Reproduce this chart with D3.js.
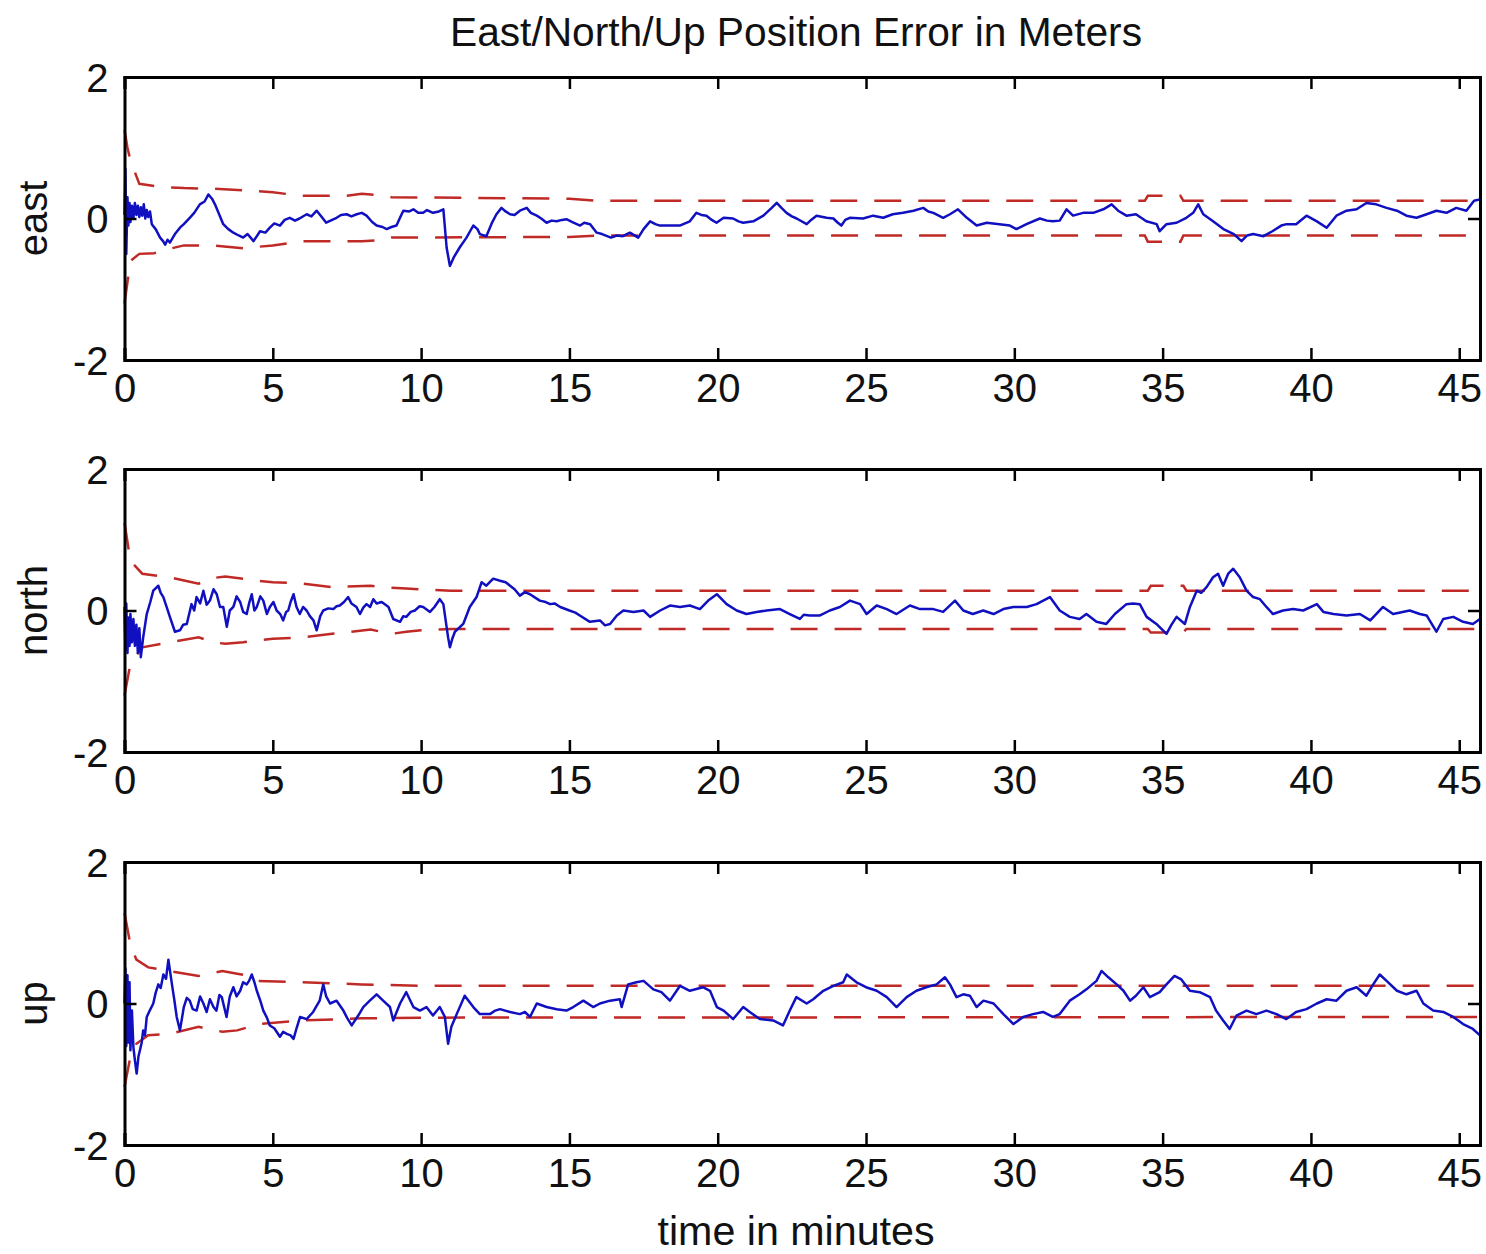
<!DOCTYPE html>
<html>
<head>
<meta charset="utf-8">
<script src="https://cdn.jsdelivr.net/npm/d3@7"></script>
<style>
  body { margin: 0; background: #fff; }
  text { font-family: "Liberation Sans", Arial, sans-serif; fill: #111; }
</style>
</head>
<body>
<div id="chart"></div>
<script>
// ---- data (time in minutes, error in meters) ----
const xTicks = [0, 5, 10, 15, 20, 25, 30, 35, 40, 45];
const yTicks = [-2, 0, 2];
const panelNames = ["east", "north", "up"];

const eastErr = [
  [0,0.05],[0.03,0.7],[0.06,-0.5],[0.1,0.3],[0.13,-0.1],[0.17,0.22],[0.2,-0.05],[0.25,0.18],[0.3,0.0],
  [0.35,0.22],[0.4,0.05],[0.45,0.18],[0.5,0.02],[0.55,0.16],[0.6,0.04],[0.65,0.2],[0.7,0.0],[0.75,0.12],
  [0.8,0.02],[0.86,0.1],[0.92,-0.08],[1.05,-0.15],[1.2,-0.27],[1.3,-0.32],[1.37,-0.37],[1.45,-0.3],[1.53,-0.34],
  [1.7,-0.22],[1.87,-0.13],[2.0,-0.08],[2.2,0.01],[2.35,0.08],[2.54,0.2],[2.7,0.24],[2.83,0.34],[2.95,0.28],
  [3.05,0.2],[3.2,0.05],[3.33,-0.08],[3.5,-0.15],[3.67,-0.2],[3.85,-0.24],[4.0,-0.27],[4.15,-0.22],[4.35,-0.32],
  [4.57,-0.18],[4.75,-0.2],[4.9,-0.13],[5.05,-0.07],[5.24,-0.1],[5.4,-0.02],[5.57,0.01],[5.75,-0.03],[5.9,0.0],
  [6.14,0.06],[6.3,0.03],[6.48,0.11],[6.65,0.02],[6.8,-0.06],[7.0,-0.02],[7.15,0.01],[7.3,0.05],[7.49,0.06],
  [7.65,0.03],[7.83,0.06],[8.0,0.08],[8.16,0.04],[8.35,-0.05],[8.5,-0.1],[8.7,-0.12],[8.84,-0.15],[9.0,-0.12],
  [9.17,-0.1],[9.3,0.02],[9.4,0.11],[9.6,0.1],[9.74,0.13],[9.9,0.08],[10.07,0.08],[10.2,0.12],[10.4,0.08],
  [10.6,0.1],[10.75,0.13],[10.86,-0.41],[10.97,-0.67],[11.1,-0.55],[11.3,-0.41],[11.53,-0.27],[11.65,-0.18],
  [11.76,-0.1],[11.9,-0.15],[11.98,-0.22],[12.2,-0.25],[12.4,-0.05],[12.54,0.06],[12.71,0.15],[12.85,0.1],
  [13.0,0.06],[13.15,0.05],[13.33,0.11],[13.56,0.15],[13.7,0.08],[13.9,0.04],[14.05,0.0],[14.23,-0.06],
  [14.4,-0.03],[14.57,-0.04],[14.75,-0.02],[14.9,-0.01],[15.1,-0.05],[15.36,-0.1],[15.5,-0.06],[15.7,-0.08],
  [15.92,-0.2],[16.1,-0.22],[16.4,-0.27],[16.6,-0.24],[16.8,-0.25],[17.04,-0.2],[17.32,-0.27],[17.5,-0.15],
  [17.72,-0.04],[17.9,-0.08],[18.05,-0.1],[18.4,-0.1],[18.72,-0.1],[19.06,-0.04],[19.28,0.08],[19.45,0.05],
  [19.62,0.04],[19.8,-0.02],[19.96,-0.06],[20.2,0.01],[20.52,0.0],[20.7,-0.04],[20.86,-0.06],[21.2,-0.04],
  [21.54,0.04],[21.82,0.15],[21.99,0.22],[22.15,0.15],[22.32,0.08],[22.5,0.03],[22.66,0.0],[23.0,-0.08],
  [23.15,-0.02],[23.33,0.04],[23.67,0.01],[23.9,0.0],[24.05,-0.06],[24.17,-0.1],[24.3,-0.02],[24.45,0.01],
  [24.9,0.0],[25.24,0.04],[25.58,0.01],[25.9,0.06],[26.25,0.08],[26.6,0.11],[26.93,0.15],[27.1,0.1],
  [27.27,0.08],[27.6,0.01],[27.83,0.06],[28.1,0.13],[28.25,0.07],[28.4,0.01],[28.73,-0.1],[29.07,-0.06],
  [29.5,-0.08],[29.85,-0.1],[30.07,-0.15],[30.41,-0.08],[30.86,0.0],[31.1,-0.03],[31.3,-0.04],[31.53,-0.03],
  [31.76,0.13],[31.98,0.04],[32.32,0.08],[32.66,0.08],[33.0,0.13],[33.28,0.2],[33.5,0.11],[33.78,0.04],
  [34.1,0.06],[34.45,-0.04],[34.8,-0.08],[34.9,-0.18],[35.13,-0.08],[35.47,-0.06],[35.8,0.01],[36.03,0.08],
  [36.2,0.2],[36.37,0.06],[36.7,-0.04],[37.05,-0.15],[37.4,-0.22],[37.66,-0.32],[37.85,-0.24],[38.05,-0.22],
  [38.4,-0.25],[38.7,-0.18],[39.0,-0.1],[39.18,-0.08],[39.5,-0.08],[39.85,0.04],[40.2,-0.04],[40.53,-0.13],
  [40.86,0.04],[41.2,0.11],[41.54,0.13],[41.87,0.22],[42.2,0.2],[42.55,0.15],[42.9,0.11],[43.22,0.04],
  [43.56,0.01],[43.9,0.06],[44.23,0.11],[44.57,0.08],[44.9,0.15],[45.24,0.11],[45.5,0.25],[45.7,0.27]
];

const northErr = [
  [0,0.05],[0.03,-0.55],[0.06,0.1],[0.1,-0.6],[0.13,-0.1],[0.17,-0.5],[0.2,-0.05],[0.25,-0.45],[0.3,-0.12],
  [0.35,-0.5],[0.4,-0.2],[0.45,-0.6],[0.5,-0.25],[0.55,-0.66],[0.63,-0.38],[0.75,-0.05],[0.87,0.12],
  [0.97,0.28],[1.14,0.35],[1.22,0.25],[1.31,0.19],[1.42,0.05],[1.53,-0.09],[1.7,-0.3],[1.87,-0.28],
  [1.98,-0.2],[2.1,-0.19],[2.26,0.09],[2.35,0.0],[2.43,0.19],[2.55,0.1],[2.66,0.28],[2.77,0.08],[2.88,0.14],
  [3.0,0.3],[3.11,0.23],[3.22,0.05],[3.33,0.05],[3.45,-0.23],[3.55,0.0],[3.67,0.05],[3.78,0.2],[3.9,0.12],
  [4.0,-0.02],[4.12,-0.05],[4.2,0.1],[4.29,0.23],[4.38,0.0],[4.46,0.05],[4.58,0.2],[4.68,0.14],[4.8,-0.05],
  [4.9,0.05],[5.02,0.12],[5.13,0.0],[5.25,-0.05],[5.35,-0.14],[5.45,-0.02],[5.52,0.0],[5.6,0.12],[5.7,0.23],
  [5.8,0.05],[5.91,-0.05],[6.02,0.05],[6.14,0.0],[6.25,-0.08],[6.37,-0.14],[6.48,-0.28],[6.6,-0.08],
  [6.7,0.0],[6.87,0.03],[7.04,0.02],[7.15,0.06],[7.26,0.07],[7.4,0.12],[7.54,0.19],[7.65,0.1],[7.82,0.05],
  [7.94,-0.05],[8.05,0.04],[8.16,0.09],[8.28,0.05],[8.39,0.16],[8.5,0.1],[8.67,0.12],[8.8,0.08],[8.9,0.05],
  [9.06,-0.12],[9.29,-0.16],[9.4,-0.08],[9.5,-0.09],[9.65,-0.02],[9.79,0.0],[9.95,0.06],[10.07,0.05],
  [10.3,-0.02],[10.45,0.05],[10.63,0.16],[10.75,0.09],[10.91,-0.38],[10.97,-0.52],[11.05,-0.4],[11.14,-0.3],
  [11.42,-0.19],[11.55,-0.05],[11.64,0.05],[11.87,0.19],[12.04,0.4],[12.2,0.35],[12.43,0.45],[12.66,0.42],
  [12.85,0.4],[13.0,0.35],[13.15,0.3],[13.33,0.21],[13.5,0.26],[13.67,0.23],[14.0,0.14],[14.2,0.12],
  [14.35,0.09],[14.5,0.1],[14.69,0.05],[15.0,0.0],[15.2,-0.03],[15.35,-0.07],[15.69,-0.16],[16.03,-0.14],
  [16.2,-0.21],[16.37,-0.19],[16.6,-0.07],[16.82,0.0],[17.16,-0.02],[17.5,0.0],[17.72,-0.09],[18.06,0.0],
  [18.39,0.07],[18.73,0.05],[19.06,0.07],[19.4,0.02],[19.68,0.14],[19.97,0.23],[20.3,0.09],[20.64,0.0],
  [20.97,-0.05],[21.31,-0.02],[21.65,0.0],[22.1,0.02],[22.43,-0.05],[22.77,-0.12],[22.9,-0.06],[23.1,-0.07],
  [23.45,-0.07],[23.78,0.0],[24.12,0.05],[24.46,0.14],[24.8,0.09],[25.02,-0.05],[25.36,0.07],[25.7,0.02],
  [26.03,-0.05],[26.48,0.07],[26.82,0.02],[27.27,0.02],[27.6,-0.02],[28.0,0.14],[28.28,0.0],[28.6,-0.05],
  [28.95,0.0],[29.3,-0.05],[29.63,0.02],[29.97,0.05],[30.42,0.05],[30.75,0.09],[31.2,0.19],[31.53,0.0],
  [31.87,-0.09],[32.2,-0.12],[32.43,-0.05],[32.77,-0.16],[33.1,-0.19],[33.39,-0.05],[33.78,0.09],[34.0,0.1],
  [34.23,0.09],[34.46,-0.09],[34.79,-0.19],[35.13,-0.33],[35.3,-0.2],[35.47,-0.09],[35.75,-0.19],[35.92,0.05],
  [36.15,0.28],[36.3,0.25],[36.48,0.33],[36.7,0.47],[36.87,0.52],[37.04,0.35],[37.21,0.52],[37.38,0.59],
  [37.6,0.47],[37.83,0.28],[38.05,0.19],[38.28,0.16],[38.5,0.05],[38.72,-0.05],[39.06,0.0],[39.4,0.02],
  [39.74,0.0],[40.2,0.09],[40.42,-0.02],[40.76,-0.05],[41.2,-0.07],[41.65,-0.05],[42.0,-0.14],[42.43,0.05],
  [42.77,-0.05],[43.33,0.0],[43.67,-0.05],[43.9,-0.07],[44.23,-0.3],[44.46,-0.12],[44.8,-0.09],[45.13,-0.16],
  [45.46,-0.19],[45.7,-0.12]
];

const upErr = [
  [0,0.0],[0.03,0.5],[0.06,-0.6],[0.1,0.4],[0.13,-0.55],[0.17,0.3],[0.2,-0.66],[0.25,-0.1],[0.3,-0.62],
  [0.35,-0.8],[0.41,-0.99],[0.47,-0.75],[0.52,-0.66],[0.58,-0.55],[0.63,-0.38],[0.69,-0.45],[0.75,-0.19],
  [0.85,-0.1],[0.97,0.0],[1.05,0.15],[1.14,0.27],[1.22,0.22],[1.31,0.41],[1.4,0.35],[1.48,0.62],[1.6,0.27],
  [1.68,0.05],[1.76,-0.19],[1.87,-0.38],[2.0,-0.05],[2.1,0.08],[2.2,0.04],[2.3,-0.08],[2.43,-0.1],[2.55,0.1],
  [2.66,0.0],[2.77,-0.12],[2.88,0.06],[3.0,-0.05],[3.1,-0.1],[3.2,0.12],[3.28,0.09],[3.36,-0.05],[3.44,-0.19],
  [3.55,0.1],[3.67,0.23],[3.78,0.1],[3.9,0.18],[4.0,0.3],[4.12,0.27],[4.2,0.32],[4.29,0.41],[4.38,0.3],
  [4.46,0.18],[4.57,0.05],[4.68,-0.1],[4.8,-0.2],[4.9,-0.31],[5.05,-0.35],[5.24,-0.47],[5.35,-0.4],
  [5.47,-0.43],[5.6,-0.45],[5.7,-0.5],[5.8,-0.35],[5.92,-0.19],[6.14,-0.22],[6.36,-0.12],[6.58,0.04],
  [6.7,0.27],[6.8,0.1],[6.93,0.0],[7.15,0.04],[7.38,-0.1],[7.5,-0.2],[7.66,-0.31],[7.88,-0.17],[8.05,-0.05],
  [8.27,0.04],[8.5,0.13],[8.72,0.04],[8.95,-0.05],[9.06,-0.24],[9.29,0.0],[9.5,0.16],[9.74,-0.05],[9.96,-0.1],
  [10.18,-0.05],[10.4,-0.17],[10.63,-0.05],[10.8,-0.19],[10.91,-0.57],[11.02,-0.33],[11.2,-0.15],[11.47,0.11],
  [11.76,-0.05],[11.98,-0.15],[12.32,-0.15],[12.5,-0.1],[12.66,-0.08],[13.0,-0.12],[13.33,-0.15],[13.5,-0.12],
  [13.67,-0.19],[13.9,0.0],[14.23,-0.05],[14.57,-0.08],[14.9,-0.1],[15.13,-0.05],[15.47,0.04],[15.8,-0.05],
  [16.03,0.0],[16.37,0.04],[16.7,0.06],[16.76,-0.05],[16.98,0.27],[17.26,0.3],[17.5,0.32],[17.83,0.2],
  [18.1,0.16],[18.39,0.04],[18.73,0.25],[19.06,0.18],[19.5,0.23],[19.74,0.18],[19.97,-0.05],[20.2,-0.1],
  [20.52,-0.22],[20.86,-0.05],[21.08,-0.12],[21.42,-0.22],[21.87,-0.24],[22.2,-0.31],[22.43,-0.1],
  [22.65,0.09],[23.0,0.0],[23.22,0.06],[23.56,0.18],[23.9,0.25],[24.23,0.3],[24.35,0.41],[24.68,0.3],
  [25.0,0.23],[25.36,0.18],[25.7,0.09],[26.03,-0.05],[26.37,0.09],[26.7,0.18],[27.03,0.23],[27.38,0.27],
  [27.66,0.37],[27.83,0.27],[28.05,0.09],[28.28,0.13],[28.5,0.11],[28.73,-0.05],[28.96,0.04],[29.3,0.0],
  [29.63,-0.15],[29.97,-0.29],[30.3,-0.19],[30.63,-0.15],[30.97,-0.12],[31.3,-0.19],[31.53,-0.15],[31.87,0.04],
  [32.2,0.13],[32.43,0.2],[32.77,0.32],[32.94,0.46],[33.17,0.37],[33.45,0.27],[33.68,0.18],[33.9,0.04],
  [34.1,0.11],[34.35,0.23],[34.57,0.09],[34.9,0.16],[35.13,0.27],[35.4,0.39],[35.63,0.34],[35.92,0.18],
  [36.25,0.16],[36.6,0.09],[36.8,-0.1],[37.04,-0.24],[37.26,-0.36],[37.49,-0.17],[37.83,-0.1],[38.16,-0.15],
  [38.5,-0.1],[38.84,-0.15],[39.17,-0.22],[39.5,-0.12],[39.85,-0.08],[40.2,0.0],[40.53,0.06],[40.86,0.04],
  [41.2,0.18],[41.54,0.23],[41.87,0.11],[42.1,0.27],[42.32,0.41],[42.55,0.32],[42.9,0.18],[43.22,0.13],
  [43.56,0.18],[43.79,0.0],[44.12,-0.1],[44.46,-0.12],[44.8,-0.19],[45.13,-0.29],[45.46,-0.36],[45.7,-0.45]
];

// dashed bounds: [time, upper, lower]
const eastBound = [
  [0,1.25,-1.2],[0.1,1.0,-0.9],[0.2,0.82,-0.6],[0.5,0.49,-0.5],[1,0.46,-0.49],[1.5,0.44,-0.43],[2,0.43,-0.38],
  [3,0.42,-0.38],[4,0.4,-0.42],[5,0.37,-0.38],[6,0.32,-0.32],[7.5,0.32,-0.32],[8,0.35,-0.32],[8.8,0.32,-0.3],
  [9,0.3,-0.27],[15,0.28,-0.26],[16,0.25,-0.24],[34.4,0.25,-0.24],[34.5,0.32,-0.33],[35.6,0.32,-0.33],
  [35.7,0.25,-0.24],[45.7,0.25,-0.24]
];
const northBound = [
  [0,1.24,-1.2],[0.2,0.7,-0.75],[0.6,0.52,-0.52],[1.5,0.47,-0.45],[2.5,0.38,-0.38],[3.0,0.46,-0.45],
  [3.4,0.48,-0.47],[4,0.45,-0.45],[4.5,0.42,-0.42],[5,0.4,-0.4],[6,0.38,-0.38],[7,0.33,-0.33],[8.3,0.35,-0.27],
  [9,0.32,-0.33],[9.5,0.31,-0.3],[10,0.3,-0.28],[11,0.28,-0.26],[34.5,0.28,-0.26],[34.6,0.35,-0.31],
  [35.7,0.35,-0.31],[35.8,0.28,-0.26],[45.7,0.28,-0.26]
];
const upBound = [
  [0,1.28,-1.18],[0.2,0.83,-0.75],[0.4,0.62,-0.57],[0.8,0.51,-0.45],[1.5,0.46,-0.43],[2.5,0.39,-0.33],
  [3.3,0.46,-0.4],[3.8,0.42,-0.38],[4.2,0.39,-0.33],[4.5,0.32,-0.29],[6,0.3,-0.24],[8,0.27,-0.21],
  [10,0.25,-0.2],[45.7,0.25,-0.19]
];

const panels = [
  {name: panelNames[0], err: eastErr, bound: eastBound},
  {name: panelNames[1], err: northErr, bound: northBound},
  {name: panelNames[2], err: upErr, bound: upBound}
];

// ---- layout ----
const width = 1486, height = 1254;
const left = 124.5, right = 1480;
const tops = [77, 469, 862];
const panelH = 283;
const tickLen = 12;
const blue = "#1010c0";
const red = "#c02a26";
const labelFont = "Liberation Sans, Arial, sans-serif";

const svg = d3.select("#chart").append("svg")
  .attr("width", width)
  .attr("height", height);

const x = d3.scaleLinear().domain([0, 45.7]).range([left, right]);

svg.append("text")
  .attr("x", 796)
  .attr("y", 46)
  .attr("text-anchor", "middle")
  .attr("font-size", 40)
  .attr("textLength", 692)
  .attr("lengthAdjust", "spacingAndGlyphs")
  .text("East/North/Up Position Error in Meters");

panels.forEach((p, i) => {
  const top = tops[i];
  const y = d3.scaleLinear().domain([-2, 2]).range([top + panelH, top]);
  const g = svg.append("g");

  // dashed bounds
  const upper = d3.line().x(d => x(d[0])).y(d => y(d[1]));
  const lower = d3.line().x(d => x(d[0])).y(d => y(d[2]));
  [upper, lower].forEach(l => {
    g.append("path")
      .attr("d", l(p.bound))
      .attr("fill", "none")
      .attr("stroke", red)
      .attr("stroke-width", 2.5)
      .attr("stroke-dasharray", "27,17");
  });

  // error trace
  g.append("path")
    .attr("d", d3.line().x(d => x(d[0])).y(d => y(d[1]))(p.err))
    .attr("fill", "none")
    .attr("stroke", blue)
    .attr("stroke-width", 2.5)
    .attr("stroke-linejoin", "round");

  // axes with inward ticks, matlab style labels (plain hyphen for minus)
  const xb = d3.axisBottom(x).tickValues(xTicks).tickSize(-tickLen).tickPadding(8).tickFormat(d => String(d));
  const xt = d3.axisTop(x).tickValues(xTicks).tickSize(-tickLen).tickFormat("");
  const yl = d3.axisLeft(y).tickValues(yTicks).tickSize(-tickLen).tickPadding(16).tickFormat(d => String(d));
  const yr = d3.axisRight(y).tickValues(yTicks).tickSize(-tickLen).tickFormat("");

  const gxb = g.append("g").attr("transform", `translate(0,${top + panelH})`).call(xb);
  const gxt = g.append("g").attr("transform", `translate(0,${top})`).call(xt);
  const gyl = g.append("g").attr("transform", `translate(${left},0)`).call(yl);
  const gyr = g.append("g").attr("transform", `translate(${right},0)`).call(yr);

  [gxb, gxt, gyl, gyr].forEach(a => {
    a.select(".domain").attr("stroke", "#000").attr("stroke-width", 3);
    a.selectAll(".tick line").attr("stroke", "#000").attr("stroke-width", 2.5);
    a.selectAll(".tick text").attr("font-size", 40).attr("fill", "#111")
      .attr("font-family", labelFont);
  });
  gxb.selectAll(".tick text").attr("dy", "0.85em");
  gyl.selectAll(".tick text").attr("dy", "0.35em");

  // y label
  g.append("text")
    .attr("transform", `translate(47,${top + panelH / 2}) rotate(-90)`)
    .attr("text-anchor", "middle")
    .attr("font-size", 40)
    .text(p.name);
});

svg.append("text")
  .attr("x", 796)
  .attr("y", 1245)
  .attr("text-anchor", "middle")
  .attr("font-size", 40)
  .attr("textLength", 277)
  .attr("lengthAdjust", "spacingAndGlyphs")
  .text("time in minutes");
</script>
</body>
</html>
